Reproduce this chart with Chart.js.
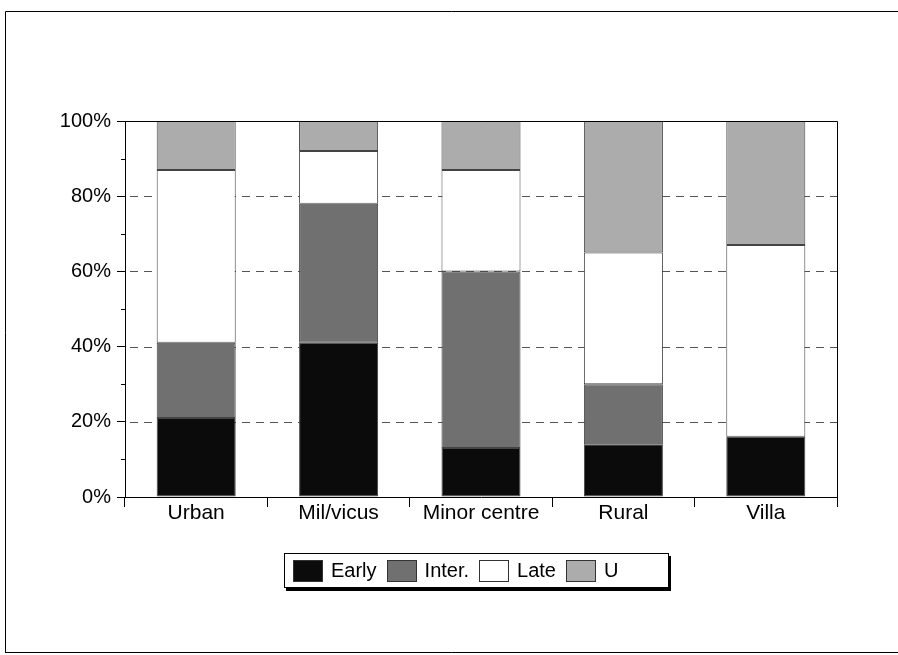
<!DOCTYPE html>
<html>
<head>
<meta charset="utf-8">
<script src="https://cdn.jsdelivr.net/npm/chart.js@4"></script>
<style>
  html, body { margin: 0; padding: 0; background: #fff; }
  #wrap { position: relative; width: 898px; height: 655px; }
  canvas { position: absolute; left: 0; top: 0; }
  #legend {
    position: absolute; left: 284px; top: 553px; width: 385px; height: 35px;
    border: 1px solid #000; background: #fff; box-shadow: 2px 3px 0 #000;
    font-family: "Liberation Sans", Arial, sans-serif; font-size: 20px; color: #000;
    display: flex; align-items: center; box-sizing: border-box; padding-left: 8px;
  }
  .item { display: flex; align-items: center; margin-right: 10px; }
  .sw { width: 30px; height: 22px; border: 1px solid #333; box-sizing: border-box; margin-right: 8px; }
</style>
</head>
<body>
<div id="wrap">
  <canvas id="c" width="898" height="655"></canvas>
  <div id="legend"></div>
</div>
<script>
const categories = ["Urban", "Mil/vicus", "Minor centre", "Rural", "Villa"];
const seriesNames = ["Early", "Inter.", "Late", "U"];
const early = [21, 41, 13, 14, 16];
const inter = [20, 37, 47, 16, 0];
const late  = [46, 14, 27, 35, 51];
const unk   = [13, 8, 13, 35, 33];
const yTicks = [0, 20, 40, 60, 80, 100];
const seriesColors = ["#0b0b0b", "#707070", "#ffffff", "#acacac"];

const FONT = "'Liberation Sans', Arial, sans-serif";
const seriesData = [early, inter, late, unk];

const extras = {
  id: 'extras',
  beforeDatasetsDraw(chart) {
    const {ctx, chartArea: a, scales: {y}} = chart;
    ctx.save();
    ctx.strokeStyle = '#555';
    ctx.lineWidth = 1;
    ctx.setLineDash([8, 6]);
    [20, 40, 60, 80].forEach(v => {
      const py = Math.round(y.getPixelForValue(v)) + 0.5;
      ctx.beginPath();
      ctx.moveTo(a.left + 5, py);
      ctx.lineTo(a.right, py);
      ctx.stroke();
    });
    ctx.restore();
  },
  afterDraw(chart) {
    const {ctx, chartArea: a, scales: {y}} = chart;
    ctx.save();
    ctx.strokeStyle = '#000';
    ctx.lineWidth = 1;
    ctx.beginPath();
    ctx.moveTo(a.left, Math.round(a.top) + 0.5);
    ctx.lineTo(Math.round(a.right) + 0.5, Math.round(a.top) + 0.5);
    ctx.lineTo(Math.round(a.right) + 0.5, a.bottom);
    ctx.stroke();
    [10, 30, 50, 70, 90].forEach(v => {
      const py = Math.round(y.getPixelForValue(v)) + 0.5;
      ctx.beginPath();
      ctx.moveTo(a.left - 4, py);
      ctx.lineTo(a.left, py);
      ctx.stroke();
    });
    ctx.beginPath();
    ctx.moveTo(5.5, 653);
    ctx.lineTo(5.5, 11.5);
    ctx.lineTo(898, 11.5);
    ctx.moveTo(5.5, 652.5);
    ctx.lineTo(898, 652.5);
    ctx.stroke();
    ctx.restore();
  }
};

new Chart(document.getElementById('c'), {
  type: 'bar',
  data: {
    labels: categories,
    datasets: seriesNames.map((n, i) => ({
      label: n,
      data: seriesData[i],
      backgroundColor: seriesColors[i],
      borderColor: '#444',
      borderWidth: c => (c.raw ? 1 : 0),
      borderSkipped: false,
      categoryPercentage: 1,
      barPercentage: 0.555
    }))
  },
  options: {
    responsive: false,
    animation: false,
    events: [],
    layout: { padding: { top: 121, right: 61, left: 0, bottom: 0 } },
    plugins: { legend: { display: false }, tooltip: { enabled: false } },
    scales: {
      x: {
        stacked: true,
        afterFit(s) { s.height = 158; },
        grid: { drawOnChartArea: false, drawTicks: true, tickLength: 10, tickColor: '#000', offset: true },
        border: { display: true, color: '#000', width: 1 },
        ticks: { color: '#000', font: { family: FONT, size: 21 }, padding: -6, maxRotation: 0 }
      },
      y: {
        stacked: true,
        min: 0, max: 100,
        afterFit(s) { s.width = 125; },
        afterBuildTicks(s) { s.ticks = yTicks.map(v => ({ value: v })); },
        grid: { drawOnChartArea: false, drawTicks: true, tickLength: 8, tickColor: '#000' },
        border: { display: true, color: '#000', width: 1 },
        ticks: { color: '#000', font: { family: FONT, size: 20 }, padding: 6, callback: v => v + '%' }
      }
    }
  },
  plugins: [extras]
});

const lg = document.getElementById('legend');
seriesNames.forEach((n, i) => {
  const it = document.createElement('div');
  it.className = 'item';
  const sw = document.createElement('div');
  sw.className = 'sw';
  sw.style.background = seriesColors[i];
  const t = document.createElement('span');
  t.textContent = n;
  it.appendChild(sw); it.appendChild(t);
  lg.appendChild(it);
});
</script>
</body>
</html>
